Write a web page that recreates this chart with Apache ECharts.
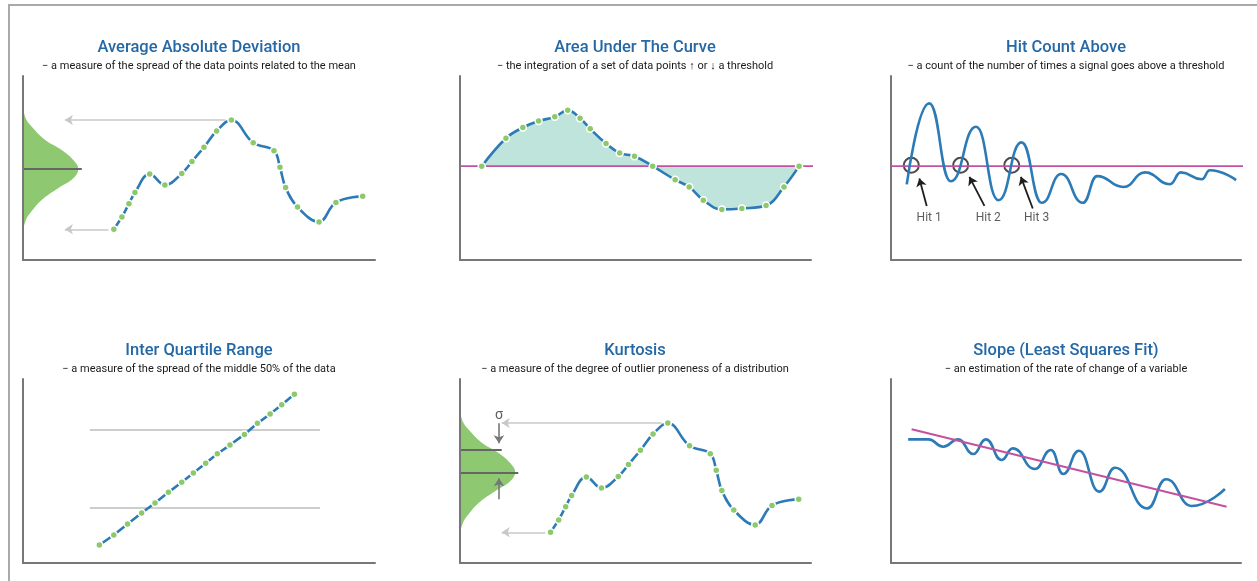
<!DOCTYPE html>
<html>
<head>
<meta charset="utf-8">
<script src="https://cdn.jsdelivr.net/npm/echarts@6/dist/echarts.min.js"></script>
<style>
  html, body { margin: 0; padding: 0; background: #fff; overflow: hidden; }
  #main { width: 1257px; height: 581px; }
  #frame { position: absolute; left: 8px; top: 4px; width: 1300px; height: 620px;
           border-top: 2px solid #a9a9a9; border-left: 2px solid #a9a9a9; pointer-events: none; }
</style>
</head>
<body>
<div id="frame"></div>
<div id="main"></div>
<script>
// panel texts
const titles = ['Average Absolute Deviation', 'Area Under The Curve', 'Hit Count Above',
  'Inter Quartile Range', 'Kurtosis', 'Slope (Least Squares Fit)']
const subtitles = [
  '− a measure of the spread of the data points related to the mean',
  '− the integration of a set of data points ↑ or ↓ a threshold',
  '− a count of the number of times a signal goes above a threshold',
  '− a measure of the spread of the middle 50% of the data',
  '− a measure of the degree of outlier proneness of a distribution',
  '− an estimation of the rate of change of a variable'
]

// sampled signal used in "Average Absolute Deviation" and "Kurtosis"
const sampleX = [25.8, 28.1, 30.1, 31.8, 36.0, 40.3, 45.1, 48.0, 51.4, 55.0, 59.2, 65.4, 71.3, 73.0, 74.6, 78.0, 84.1, 88.9, 96.5]
const sampleY = [16.7, 23.4, 30.6, 36.7, 46.8, 40.7, 47.0, 53.5, 61.3, 70.1, 76.1, 63.7, 59.4, 50.4, 39.4, 28.8, 20.7, 31.3, 34.7]

// distribution drawn along the y axis (density, level)
const bellDensity = [0, 1.0, 2.5, 6.3, 11.0, 14.3, 15.7, 14.3, 10.0, 5.3, 2.0, 1.0, 0]
const bellLevel   = [80.6, 76.1, 72.4, 65.2, 59.8, 54.3, 49.5, 44.4, 39.0, 32.6, 25.4, 22.6, 17.9]
const meanLevel = 49.5
const meanLength = 16.7

// range arrows (max and min of the signal pointing at the distribution)
const rangeArrows = [[[57.5, 76.1], [11.9, 76.1]], [[24.3, 16.7], [11.9, 16.7]]]

// area under the curve
const aucX = [6.2, 13.1, 17.9, 22.4, 27.0, 30.7, 34.2, 37.1, 41.6, 45.5, 49.7, 54.9, 61.3, 65.3, 69.3, 74.6, 80.3, 87.2, 92.3, 96.6]
const aucY = [0, 15.2, 21.0, 24.5, 26.8, 30.4, 26.1, 20.3, 12.3, 7.1, 5.4, 0, -7.4, -11.3, -18.5, -23.5, -23.0, -21.4, -11.3, 0]
const thresholdEnd = [101.9, 102.3]

// hit count (start point and extrema of a damped signal)
const hitX = [4.5, 10.9, 17.1, 24.3, 30.7, 37.3, 43.1, 48.6, 54.8, 58.9, 66.4, 72.6, 79.7, 82.8, 88.8, 91.1, 98.6]
const hitY = [-9.9, 34.1, -8.2, 21.4, -18.5, 12.9, -19.9, -4.3, -19.9, -5.4, -11.3, -3.4, -9.8, -3.4, -7.1, -2.2, -7.6]
const hitCrossX = [5.8, 19.9, 34.5]
const hitNames = ['Hit 1', 'Hit 2', 'Hit 3']
const hitArrows = [[[10.2, -21.6], [8.1, -6.7]], [[26.7, -21.6], [22.4, -5.8]], [[40.5, -23.0], [37.1, -5.8]]]
const hitLabelX = [10.9, 27.8, 41.6]
const hitLabelY = -28.4

// inter quartile range
const iqrX = [21.7, 25.8, 29.7, 33.7, 37.5, 41.3, 45.1, 48.4, 51.9, 55.2, 58.8, 62.9, 66.6, 70.2, 73.5, 77.1]
const iqrY = [9.8, 15.2, 21.2, 27.2, 32.6, 38.4, 43.9, 48.9, 54.2, 59.4, 64.1, 69.9, 75.9, 81.0, 86.0, 91.7]
const quartiles = [29.9, 72.3]
const quartileSpan = [19.0, 84.4]

// kurtosis sigma marks
const sigmaLevels = [61.4, 49.3]
const sigmaLengths = [11.9, 16.6]
const sigmaArrows = [[[11.1, 75.9], [11.1, 65.1]], [[11.1, 34.6], [11.1, 46.0]]]
const sigmaLabel = [11.1, 80.4]

// slope
const slopeX = [4.9, 10.7, 14.9, 19.2, 23.5, 27.1, 31.6, 34.8, 41.1, 45.7, 49.2, 53.7, 59.5, 64.0, 73.2, 78.6, 85.9, 95.4]
const slopeY = [67.2, 67.2, 63.2, 67.2, 59.2, 67.2, 56.0, 62.3, 51.1, 61.4, 48.4, 61.0, 38.8, 51.8, 29.7, 45.5, 31.0, 40.2]
const fitX = [5.9, 95.9]
const fitY = [72.7, 30.6]

const BLUE = '#2c7bb6', GREEN = '#8cc96b', BELL = '#8ec972', TEAL = '#bfe4dc', MAGENTA = '#c4519f'

const grids = [
  { left: 23, top: 76, width: 352, height: 184 },
  { left: 460, top: 76, width: 351, height: 184 },
  { left: 891, top: 76, width: 350, height: 184 },
  { left: 23, top: 379, width: 352, height: 184 },
  { left: 460, top: 379, width: 351, height: 184 },
  { left: 891, top: 379, width: 350, height: 184 }
]
const yRanges = [[0, 100], [-51, 49], [-51, 49], [0, 100], [0, 100], [0, 100]]
const titleCenters = [199, 635, 1066, 199, 635, 1066]
const titleTops = [39, 39, 39, 342, 342, 342]

function pairs (xs, ys) {
  return xs.map((x, k) => [x, ys[k]])
}

function bell (g) {
  return {
    type: 'custom', xAxisIndex: g, yAxisIndex: g, z: 1, silent: true,
    data: [[0, 0]],
    renderItem: function (params, api) {
      const pts = bellDensity.map((d, k) => api.coord([d, bellLevel[k]]))
      return { type: 'polygon', shape: { points: pts, smooth: 0.4 }, style: { fill: BELL } }
    }
  }
}

function segs (g, list, color, width, head) {
  return {
    type: 'lines', coordinateSystem: 'cartesian2d', xAxisIndex: g, yAxisIndex: g, silent: true,
    symbol: head ? ['none', 'arrow'] : ['none', 'none'], symbolSize: 8,
    lineStyle: { color: color, width: width, opacity: 1, curveness: 0 },
    data: list.map(c => ({ coords: c }))
  }
}

function plain (g, data, color, width, extra) {
  return Object.assign({
    type: 'line', xAxisIndex: g, yAxisIndex: g, data: data, showSymbol: false, silent: true,
    lineStyle: { color: color, width: width }, itemStyle: { color: color }
  }, extra || {})
}

function dotted (g, data, smooth) {
  return {
    type: 'line', xAxisIndex: g, yAxisIndex: g, data: data, smooth: smooth, silent: true,
    symbol: 'circle', symbolSize: 7, showSymbol: true,
    lineStyle: { color: BLUE, width: 2.6 },
    itemStyle: { color: GREEN, borderColor: '#fff', borderWidth: 1.5 }
  }
}

function labels (g, items, size) {
  return {
    type: 'scatter', xAxisIndex: g, yAxisIndex: g, symbolSize: 1, silent: true,
    itemStyle: { color: 'rgba(0,0,0,0)' },
    label: { show: true, position: 'inside', formatter: '{b}', color: '#333', fontSize: size, fontFamily: 'Roboto' },
    data: items
  }
}

const series = [
  // Average Absolute Deviation
  bell(0),
  plain(0, [[0, meanLevel], [meanLength, meanLevel]], '#666', 2),
  segs(0, rangeArrows, '#c8c8c8', 1.6, true),
  dotted(0, pairs(sampleX, sampleY), 0.4),

  // Area Under The Curve
  plain(1, pairs(aucX, aucY), BLUE, 0, { smooth: 0.4, areaStyle: { color: TEAL, opacity: 1 } }),
  plain(1, [[0, 0], [thresholdEnd[0], 0]], MAGENTA, 1.6, { clip: false }),
  dotted(1, pairs(aucX, aucY), 0.4),

  // Hit Count Above
  plain(2, [[0, 0], [thresholdEnd[1], 0]], MAGENTA, 1.6, { clip: false }),
  plain(2, pairs(hitX, hitY), BLUE, 2.6, { smooth: 0.5, smoothMonotone: 'x' }),
  {
    type: 'scatter', xAxisIndex: 2, yAxisIndex: 2, symbolSize: 15, silent: true,
    itemStyle: { color: 'rgba(0,0,0,0)', borderColor: '#1e1e1e', borderWidth: 2 },
    data: hitCrossX.map(x => [x, 0.5])
  },
  segs(2, hitArrows, '#1e1e1e', 1.8, true),
  labels(2, hitNames.map((n, k) => ({ name: n, value: [hitLabelX[k], hitLabelY] })), 12),

  // Inter Quartile Range
  segs(3, quartiles.map(q => [[quartileSpan[0], q], [quartileSpan[1], q]]), '#bdbdbd', 1.6, false),
  dotted(3, pairs(iqrX, iqrY), false),

  // Kurtosis
  bell(4),
  segs(4, sigmaLevels.map((s, k) => [[0, s], [sigmaLengths[k], s]]), '#666', 2, false),
  segs(4, sigmaArrows, '#777', 1.6, true),
  segs(4, rangeArrows, '#c8c8c8', 1.6, true),
  dotted(4, pairs(sampleX, sampleY), 0.4),
  labels(4, [{ name: 'σ', value: sigmaLabel }], 14),

  // Slope
  plain(5, pairs(slopeX, slopeY), BLUE, 2.6, { smooth: 0.5, smoothMonotone: 'x' }),
  plain(5, pairs(fitX, fitY), MAGENTA, 2)
]

const option = {
  animation: false,
  textStyle: { fontFamily: 'Roboto' },
  title: titles.map((t, i) => ({
    text: t, subtext: subtitles[i],
    left: titleCenters[i], top: titleTops[i], textAlign: 'center', padding: 0, itemGap: 5,
    textStyle: { color: '#2468a6', fontSize: 16.5, fontWeight: 500, fontFamily: 'Roboto' },
    subtextStyle: { color: '#1a1a1a', fontSize: 11, fontFamily: 'Roboto' }
  })),
  grid: grids,
  xAxis: grids.map((g, i) => ({
    type: 'value', gridIndex: i, min: 0, max: 100, z: 5,
    axisLine: { show: true, onZero: false, lineStyle: { color: '#777', width: 2 } },
    axisTick: { show: false }, axisLabel: { show: false }, splitLine: { show: false }
  })),
  yAxis: grids.map((g, i) => ({
    type: 'value', gridIndex: i, min: yRanges[i][0], max: yRanges[i][1], z: 5,
    axisLine: { show: true, onZero: false, lineStyle: { color: '#777', width: 2 } },
    axisTick: { show: false }, axisLabel: { show: false }, splitLine: { show: false }
  })),
  series: series
}

const chart = echarts.init(document.getElementById('main'))
chart.setOption(option)
</script>
</body>
</html>
